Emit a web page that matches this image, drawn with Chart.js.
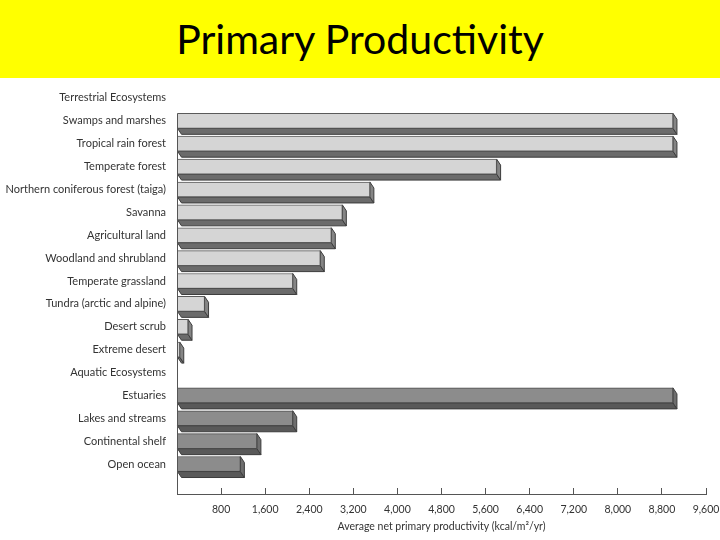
<!DOCTYPE html>
<html>
<head>
<meta charset="utf-8">
<script src="https://cdn.jsdelivr.net/npm/chart.js@4/dist/chart.umd.min.js"></script>
<style>
  html, body { margin: 0; padding: 0; background: #fff; }
  #header {
    width: 720px; height: 78px; background: #ffff00;
    font-family: Lato, "Open Sans", sans-serif; font-size: 41px; color: #000;
    text-align: center; line-height: 78px;
  }
  #wrap { width: 720px; height: 462px; position: relative; }
</style>
</head>
<body>
<div id="header">Primary Productivity</div>
<div id="wrap"><canvas id="prodChart"></canvas></div>
<script>
// rows from top to bottom, group headings included
const categories = [
    "Terrestrial Ecosystems",
    "Swamps and marshes",
    "Tropical rain forest",
    "Temperate forest",
    "Northern coniferous forest (taiga)",
    "Savanna",
    "Agricultural land",
    "Woodland and shrubland",
    "Temperate grassland",
    "Tundra (arctic and alpine)",
    "Desert scrub",
    "Extreme desert",
    "Aquatic Ecosystems",
    "Estuaries",
    "Lakes and streams",
    "Continental shelf",
    "Open ocean"
];
const terrestrialValues = [null, 9000, 9000, 5800, 3500, 3000, 2800, 2600, 2100, 500, 200, 50, null, null, null, null, null];
const aquaticValues = [null, null, null, null, null, null, null, null, null, null, null, null, null, 9000, 2100, 1450, 1150];
const xTicks = [0, 800, 1600, 2400, 3200, 4000, 4800, 5600, 6400, 7200, 8000, 8800, 9600];

const BAR_THICKNESS = 15;

function toPoints(values) {
    return values.map((v, i) => ({ x: v, y: i }));
}

// draws the bottom and right faces so the bars look like slabs
const depthPlugin = {
    id: "depth",
    beforeDatasetsDraw(chart) {
        const ctx = chart.ctx;
        const dx = 4, dy = 6;
        chart.data.datasets.forEach((ds, di) => {
            const meta = chart.getDatasetMeta(di);
            meta.data.forEach((bar, i) => {
                if (ds.data[i].x == null) return;
                const p = bar.getProps(["x", "y", "base", "height"], true);
                const top = p.y - p.height / 2;
                const bottom = p.y + p.height / 2;
                ctx.save();
                ctx.strokeStyle = "#3c3c3c";
                ctx.lineWidth = 1;
                // bottom face
                ctx.beginPath();
                ctx.moveTo(p.base, bottom);
                ctx.lineTo(p.x, bottom);
                ctx.lineTo(p.x + dx, bottom + dy);
                ctx.lineTo(p.base + dx, bottom + dy);
                ctx.closePath();
                ctx.fillStyle = ds.bottomColor;
                ctx.fill();
                ctx.stroke();
                // right face
                ctx.beginPath();
                ctx.moveTo(p.x, top);
                ctx.lineTo(p.x + dx, top + dy);
                ctx.lineTo(p.x + dx, bottom + dy);
                ctx.lineTo(p.x, bottom);
                ctx.closePath();
                ctx.fillStyle = ds.sideColor;
                ctx.fill();
                ctx.stroke();
                ctx.restore();
            });
        });
    },
    // vertical axis line only runs from the first bar down to the x axis
    afterDatasetsDraw(chart) {
        const ctx = chart.ctx;
        const yScale = chart.scales.y;
        const x = Math.round(chart.chartArea.left) + 0.5;
        const yTop = yScale.getPixelForValue(1) - BAR_THICKNESS / 2;
        ctx.save();
        ctx.strokeStyle = "#555";
        ctx.lineWidth = 1;
        ctx.beginPath();
        ctx.moveTo(x, yTop);
        ctx.lineTo(x, chart.chartArea.bottom);
        ctx.stroke();
        ctx.restore();
    }
};

const labelFont = { family: "Lato, 'Open Sans', sans-serif", size: 11 };

new Chart(document.getElementById("prodChart"), {
    type: "bar",
    data: {
        datasets: [
            {
                label: "Terrestrial",
                data: toPoints(terrestrialValues),
                backgroundColor: "#d5d5d5",
                borderColor: "#5a5a5a",
                borderWidth: 1,
                bottomColor: "#6b6b6b",
                sideColor: "#858585"
            },
            {
                label: "Aquatic",
                data: toPoints(aquaticValues),
                backgroundColor: "#8c8c8c",
                borderColor: "#4a4a4a",
                borderWidth: 1,
                bottomColor: "#595959",
                sideColor: "#6e6e6e"
            }
        ]
    },
    options: {
        indexAxis: "y",
        responsive: true,
        maintainAspectRatio: false,
        animation: false,
        grouped: false,
        barThickness: BAR_THICKNESS,
        layout: { padding: { top: 8.5, right: 14, left: 0, bottom: 0 } },
        plugins: {
            legend: { display: false },
            tooltip: { enabled: false }
        },
        scales: {
            y: {
                type: "linear",
                reverse: true,
                offset: false,
                bounds: "data",
                min: -0.5,
                max: 17.31,
                afterBuildTicks: (scale) => {
                    scale.ticks = categories.map((_, i) => ({ value: i }));
                },
                afterFit: (scale) => {
                    scale.width = 177;
                    scale.paddingTop = 0;
                    scale.paddingBottom = 0;
                },
                grid: { display: false, drawTicks: false },
                border: { display: false },
                ticks: {
                    padding: 11,
                    color: "#333",
                    font: labelFont,
                    callback: (v) => categories[v]
                }
            },
            x: {
                type: "linear",
                min: 0,
                max: 9600,
                afterBuildTicks: (scale) => {
                    scale.ticks = xTicks.map((v) => ({ value: v }));
                },
                afterFit: (scale) => {
                    scale.height = 46;
                    scale.paddingLeft = 0;
                    scale.paddingRight = 0;
                },
                grid: { drawOnChartArea: false, drawTicks: true, tickLength: -6, color: "#555" },
                border: { display: true, color: "#555", width: 1 },
                ticks: {
                    padding: 15,
                    maxRotation: 0,
                    autoSkip: false,
                    color: "#333",
                    font: { family: labelFont.family, size: 10.5 },
                    callback: (v) => v === 0 ? "" : v.toLocaleString("en-US")
                },
                title: {
                    display: true,
                    text: "Average net primary productivity (kcal/m²/yr)",
                    color: "#333",
                    font: { family: labelFont.family, size: 10.5 },
                    padding: { top: 0, bottom: 7 }
                }
            }
        }
    },
    plugins: [depthPlugin]
});
</script>
</body>
</html>
